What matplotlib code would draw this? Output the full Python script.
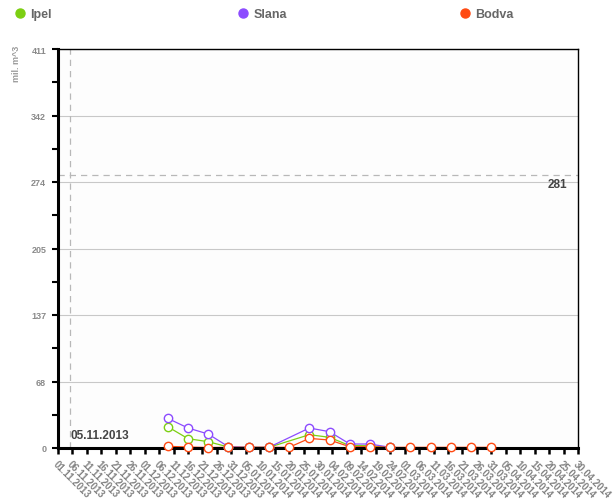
"""Weekly reservoir volumes for three rivers (mil. m^3)."""
import numpy as np
import pandas as pd
import matplotlib
matplotlib.use("Agg")
import matplotlib.pyplot as plt
import matplotlib.dates as mdates
from matplotlib.lines import Line2D

plt.rcParams["font.family"] = ["Liberation Sans", "DejaVu Sans"]

# data
dates = ["2013-12-09", "2013-12-16", "2013-12-23", "2013-12-30", "2014-01-06",
         "2014-01-13", "2014-01-20", "2014-01-27", "2014-02-03", "2014-02-10",
         "2014-02-17", "2014-02-24", "2014-03-03", "2014-03-10", "2014-03-17",
         "2014-03-24", "2014-03-31"]
nan = np.nan
ipel = [21.9, 9.6, 6.5, 1.0, 0.7, 0.7, nan, 13.7, 11.0, 2.4, 2.4, 0.7,
        nan, nan, nan, nan, nan]
slana = [30.5, 20.6, 14.4, 1.3, 0.7, 0.7, nan, 20.6, 16.8, 4.1, 4.1, 0.7,
         nan, nan, nan, nan, nan]
bodva = [1.7, 1.0, 0.5, 0.7, 0.7, 0.7, 0.7, 9.9, 8.2, 1.3, 1.3, 0.7,
         0.7, 0.7, 0.7, 0.7, 0.7]
series_names = ["Ipel", "Slana", "Bodva"]
series_colors = ["#7ccf12", "#8c4bff", "#ff4a12"]
y_ticks = [0, 68.5, 137, 205.5, 274, 342.5, 411]
y_tick_labels = ["0", "68", "137", "205", "274", "342", "411"]
guide_value = 281
guide_date = "2013-11-05"
x_start, x_end = "2013-11-01", "2014-04-30"

x = pd.to_datetime(dates)

fig = plt.figure(figsize=(6.16, 5.02), dpi=100)
ax = fig.add_axes([58 / 616, 1 - 449 / 502, 520 / 616, 399 / 502])
ax.set_facecolor("#fdfdfd")

for name, vals, color in zip(series_names, [ipel, slana, bodva], series_colors):
    v = np.array(vals, dtype=float)
    ok = ~np.isnan(v)
    ax.plot(x[ok], v[ok], color=color, lw=0.9, zorder=2)
    ax.plot(x[ok], v[ok], ls="none", marker="o", ms=6, mew=1,
            mfc="white", mec=color, zorder=4, clip_on=False)

# axes & grid
ax.set_ylim(0, 411)
ax.set_yticks(y_ticks)
ax.set_yticklabels(y_tick_labels)
ax.set_yticks([(a + b) / 2 for a, b in zip(y_ticks[:-1], y_ticks[1:])], minor=True)
ax.yaxis.grid(True, color="#c8c8c8", lw=0.8)
ax.set_axisbelow(True)

ax.set_xlim(pd.Timestamp(x_start), pd.Timestamp(x_end))
xt = pd.date_range(x_start, x_end, freq="5D")
ax.set_xticks(xt)
ax.xaxis.set_major_formatter(mdates.DateFormatter("%d.%m.%Y"))
for lbl in ax.get_xticklabels():
    lbl.set_rotation(-45)
    lbl.set_ha("left")
    lbl.set_va("top")
    lbl.set_rotation_mode("anchor")

ax.tick_params(axis="x", length=4.5, width=1.8, color="black", pad=3,
               labelsize=6.9, labelcolor="#828282")
ax.tick_params(axis="y", which="both", length=4.5, width=1.5, color="black",
               pad=4, labelsize=6.5, labelcolor="#8a8a8a")
for lbl in ax.get_yticklabels() + ax.get_xticklabels():
    lbl.set_fontweight("bold")

for side in ["left", "bottom"]:
    ax.spines[side].set_linewidth(2.2)
for side in ["top", "right"]:
    ax.spines[side].set_linewidth(1.0)

ax.set_ylabel("mil. m^3", fontsize=6.5, color="#9a9a9a", fontweight="bold",
              loc="top", labelpad=7)
ax.yaxis.label.set_y(1.01)

# guides
gd = pd.Timestamp(guide_date)
ax.axvline(gd, color="#b8b8b8", lw=0.9, ls=(0, (5, 4)), zorder=1)
ax.annotate(gd.strftime("%d.%m.%Y"), xy=(gd, 0), xytext=(1, 5),
            textcoords="offset points", ha="left", va="bottom",
            fontsize=8.5, fontweight="bold", color="#444444")
ax.axhline(guide_value, color="#b8b8b8", lw=0.9, ls=(0, (5, 4)), zorder=1)
ax.annotate(str(guide_value), xy=(0.98, guide_value),
            xycoords=("axes fraction", "data"), xytext=(0, -2),
            textcoords="offset points", ha="right", va="top",
            fontsize=8.5, fontweight="bold", color="#444444")

# legend, one item per slot across the top
legend_x = [0.022, 0.385, 0.745]
for name, color, lx in zip(series_names, series_colors, legend_x):
    h = Line2D([], [], ls="none", marker="o", ms=6.5, color=color)
    leg = fig.legend(handles=[h], labels=[name], loc="center left",
                     bbox_to_anchor=(lx, 1 - 15 / 502), frameon=False,
                     handletextpad=0.3, handlelength=1.0, borderaxespad=0,
                     borderpad=0, prop={"size": 9, "weight": "bold"})
    for t in leg.get_texts():
        t.set_color("#666666")

fig.savefig("out.png", dpi=100)
